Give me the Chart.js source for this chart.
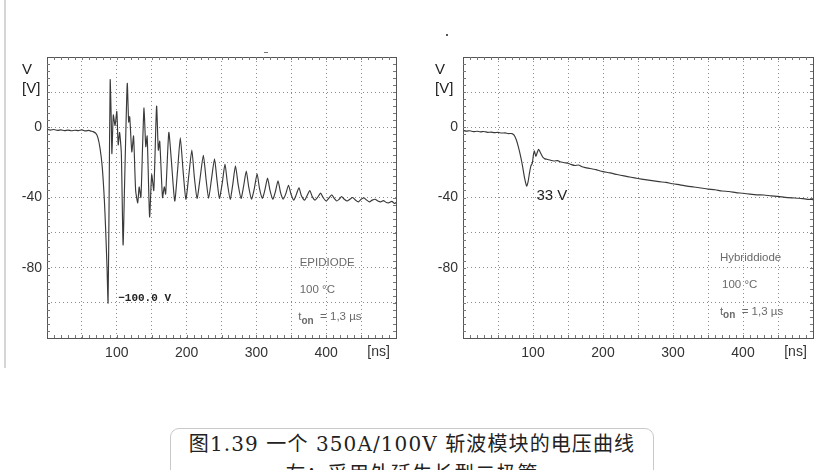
<!DOCTYPE html>
<html>
<head>
<meta charset="utf-8">
<script src="https://cdn.jsdelivr.net/npm/chart.js@4.4.1/dist/chart.umd.min.js"></script>
<style>
    html, body { margin: 0; padding: 0; background: #fff; }
    body { width: 826px; height: 470px; position: relative; overflow: hidden; font-family: "Liberation Sans", Arial, sans-serif; }
    .painel { position: absolute; top: 0; }
    #barra { position: absolute; left: 4px; top: 0; width: 2px; height: 368px; background: #d6d6d6; }
    #ponto { position: absolute; left: 446px; top: 34px; width: 2px; height: 2px; background: #555; }
    #traco { position: absolute; left: 264px; top: 52px; width: 4px; height: 1px; background: #777; }
    #legenda {
        position: absolute; left: 170px; top: 428px; width: 484px; height: 70px;
        box-sizing: border-box; border: 1px solid #c9c9c9; border-radius: 9px;
        text-align: center; color: #222; line-height: 30px; letter-spacing: 1.1px;
        font-family: "DejaVu Serif", "Liberation Serif", "Noto Sans CJK SC", serif; font-size: 20px;
    }
</style>
</head>
<body>
<div id="barra"></div>
<div id="ponto"></div>
<div id="traco"></div>
<canvas id="graficoEsq" class="painel" style="left:0px" width="413" height="380"></canvas>
<canvas id="graficoDir" class="painel" style="left:413px" width="413" height="380"></canvas>
<div id="legenda">图1.39 一个 350A/100V 斩波模块的电压曲线<br>左：采用外延生长型二极管</div>
<script>
// ##########################
// ## DADOS ##
// ##########################

// Tempo [ns] e tensão [V] - EPIDIODE (gráfico da esquerda)
const tempoEpi = [0, 5, 10, 15, 20, 25, 30, 35, 40, 45, 50, 55, 60, 63, 66, 70, 73, 76, 79, 82, 84, 86, 87.5,
    89, 90.5, 92, 93, 95, 97.5, 100, 102, 104, 106.5, 109, 111, 112.5, 115, 117, 118.5, 121.5, 124, 127, 130,
    132, 134.5, 137, 139, 141.5, 143.5, 147, 150, 153, 157, 159.5, 161.5, 165.5, 168, 170, 174.5, 178, 183,
    187, 191, 195, 199, 203, 207.5, 211, 215, 219, 224, 228, 231.5, 235.5, 240, 243.5, 247, 251, 255, 258.5,
    262.5, 266, 270, 274, 278, 281.5, 285.5, 289, 293, 297, 301, 304.5, 308.5, 312, 316, 319.5, 323.5, 327,
    331, 334.5, 338.5, 342, 346, 349.5, 353.5, 357, 361, 364.5, 369, 372.5, 376.5, 380, 384, 387.5, 392,
    395.5, 400, 403.5, 408, 411.5, 415, 418.5, 422, 426, 430, 434, 438, 442, 446, 450, 454, 458, 462, 466,
    470, 474, 478, 482, 486, 490, 494, 498, 500];
const tensaoEpi = [-1.2, -1.6, -1.3, -1.8, -1.5, -1.9, -1.6, -2.0, -1.7, -1.9, -1.5, -2.1, -1.8, -2.2, -2.5,
    -3.5, -6, -12, -22, -40, -58, -80, -100,
    -40, 27, 5, -15, 7, 1, 9, -10, -3, -15, -67, -35, -10, 25, 3, 6, -14, -5, -36, -43,
    -34, -40, -10, 11, -11, -5, -51, -27, -36, 12, -13, -8, -40, -34, -38, -3, -18, -42,
    -25, -6, -25, -41, -28, -13, -28, -40.5, -30, -16, -30, -40.5, -30, -18, -30, -40.5, -32, -21, -32,
    -41, -33, -22, -33, -40.5, -34, -25, -34, -41, -35, -26.5, -35, -40.5, -36, -29, -36, -41, -37,
    -30.5, -37, -41, -38, -33, -38, -41.5, -38.5, -34.5, -39, -41.5, -39, -36, -39.5, -41.5, -40, -37.5,
    -40, -42, -40.5, -38.5, -40.5, -42, -41, -39.5, -41, -42, -41, -40, -41.5, -42.5, -41, -40.2, -41.5, -42.5, -41.5,
    -41, -42, -42.5, -41.8, -42.8, -43, -42.2, -43.4, -42.8];

// Tempo [ns] e tensão [V] - Hybriddiode (gráfico da direita)
const tempoHib = [0, 5, 10, 15, 20, 25, 30, 35, 40, 45, 50, 55, 60, 65, 70, 73, 76, 79, 82, 85, 88, 91, 93,
    95, 97, 99, 100.5, 102, 104, 106, 108, 110, 112, 114, 117, 120, 125, 130, 135, 140, 145, 150, 155, 160,
    165, 170, 175, 180, 185, 190, 195, 200, 210, 220, 230, 240, 250, 260, 270, 280, 290, 300, 310, 320, 330,
    340, 350, 360, 370, 380, 390, 400, 410, 420, 430, 440, 450, 460, 470, 480, 490, 500];
const tensaoHib = [-1.8, -2.2, -2.0, -2.5, -2.3, -2.6, -2.4, -2.9, -2.8, -3.1, -2.9, -3.3, -3.2, -3.6, -3.6,
    -4.5, -7, -11, -16, -22, -29, -33.5, -31,
    -26, -22, -20.5, -16, -13.5, -16.5, -14.5, -12.5, -14, -15.5, -17, -18, -18.2, -18.8, -19.2, -19, -19.8,
    -20.2, -20.5, -21.3, -21.8, -21.5, -22.5, -23, -23.4, -23.8, -24.1, -24.8, -25.3, -26, -26.9, -27.7,
    -28.5, -29.2, -29.8, -30.4, -31, -31.4, -32.2, -32.8, -33.5, -34, -34.6, -35.2, -35.6, -36.3, -36.6,
    -37.2, -37.6, -38.1, -38.5, -38.6, -39.1, -39.4, -39.9, -40.2, -40.4, -40.9, -41.2];

// Marcas dos eixos
const ticksTempo = [100, 200, 300, 400];
const ticksTensao = [0, -40, -80];

// ##########################
// ## ESTILO GERAL          ##
// ##########################

const fonteEixo = '"Liberation Sans Narrow", "Liberation Sans", Arial, sans-serif';
const fonteNota = '"Liberation Sans", Arial, sans-serif';

// Plugin que desenha a moldura, as marcas menores e os textos dentro do gráfico
const pluginMoldura = {
    id: 'moldura',
    afterDraw(chart, args, opts) {
        const ctx = chart.ctx;
        const area = chart.chartArea;
        const sx = chart.scales.x;
        const sy = chart.scales.y;
        ctx.save();
        // moldura
        ctx.strokeStyle = '#555';
        ctx.lineWidth = 1;
        ctx.strokeRect(Math.round(area.left) + 0.5, Math.round(area.top) + 0.5,
            Math.round(area.right - area.left), Math.round(area.bottom - area.top));
        // marcas menores (10 ns e 4 V)
        ctx.strokeStyle = '#777';
        ctx.beginPath();
        for (let t = 10; t < 500; t += 10) {
            const px = Math.round(sx.getPixelForValue(t)) + 0.5;
            ctx.moveTo(px, area.bottom); ctx.lineTo(px, area.bottom - 3);
            ctx.moveTo(px, area.top); ctx.lineTo(px, area.top + 3);
        }
        for (let v = -116; v < 40; v += 4) {
            const py = Math.round(sy.getPixelForValue(v)) + 0.5;
            ctx.moveTo(area.left, py); ctx.lineTo(area.left + 3, py);
            ctx.moveTo(area.right, py); ctx.lineTo(area.right - 3, py);
        }
        ctx.stroke();
        // títulos dos eixos
        ctx.fillStyle = '#222';
        ctx.font = '15px ' + fonteNota;
        ctx.textBaseline = 'middle';
        ctx.textAlign = 'left';
        ctx.fillText('V', area.left - opts.recuoTitulo, 70);
        ctx.fillText('[V]', area.left - opts.recuoTitulo, 89);
        ctx.font = '14px ' + fonteEixo;
        ctx.textAlign = 'center';
        ctx.fillStyle = '#333';
        ctx.fillText('[ns]', sx.getPixelForValue(475), area.bottom + 14);
        // notas
        opts.notas.forEach(n => {
            const px = sx.getPixelForValue(n.t);
            const py = sy.getPixelForValue(n.v);
            ctx.fillStyle = n.cor;
            ctx.font = n.fonte;
            ctx.textAlign = 'left';
            if (n.sub) {
                ctx.fillText('t', px, py);
                let w = ctx.measureText('t').width;
                ctx.font = 'bold 10px ' + fonteNota;
                ctx.fillText('on', px + w, py + 4);
                w += ctx.measureText('on').width;
                ctx.font = n.fonte;
                ctx.fillText('  = 1,3 µs', px + w, py);
            } else {
                ctx.fillText(n.texto, px, py);
            }
        });
        ctx.restore();
    }
};

// ##########################
// ## CONFIGURAÇÃO DOS GRÁFICOS ##
// ##########################

function criarGrafico(idCanvas, tempos, tensoes, larguraEixoY, padDireita, notas) {
    const pontos = tempos.map((t, i) => ({ x: t, y: tensoes[i] }));
    return new Chart(document.getElementById(idCanvas), {
        type: 'line',
        data: {
            datasets: [{
                data: pontos,
                borderColor: '#3a3a3a',
                borderWidth: 1.15,
                pointRadius: 0,
                tension: 0.2,
                fill: false
            }]
        },
        options: {
            responsive: false,
            animation: false,
            events: [],
            layout: { padding: { top: 57, right: padDireita, bottom: 12, left: 0 } },
            plugins: {
                legend: { display: false },
                tooltip: { enabled: false },
                moldura: { notas: notas, recuoTitulo: larguraEixoY - 22 }
            },
            scales: {
                x: {
                    type: 'linear',
                    min: 0,
                    max: 500,
                    afterFit: s => { s.height = 30; },
                    afterBuildTicks: s => {
                        const lista = [];
                        for (let t = 0; t <= 500; t += 50) lista.push({ value: t });
                        s.ticks = lista;
                    },
                    ticks: {
                        autoSkip: false,
                        maxRotation: 0,
                        padding: 7,
                        color: '#333',
                        font: { family: fonteEixo, size: 14 },
                        callback: v => ticksTempo.includes(v) ? String(v) : ''
                    },
                    grid: { color: '#8c8c8c', lineWidth: 1, drawTicks: false },
                    border: { display: false, dash: [1, 3] }
                },
                y: {
                    type: 'linear',
                    min: -120,
                    max: 40,
                    afterFit: s => { s.width = larguraEixoY; },
                    afterBuildTicks: s => {
                        const lista = [];
                        for (let v = -120; v <= 40; v += 20) lista.push({ value: v });
                        s.ticks = lista;
                    },
                    ticks: {
                        autoSkip: false,
                        padding: 5,
                        color: '#333',
                        font: { family: fonteEixo, size: 14 },
                        callback: v => ticksTensao.includes(v) ? String(v) : ''
                    },
                    grid: { color: '#8c8c8c', lineWidth: 1, drawTicks: false },
                    border: { display: false, dash: [1, 3] }
                }
            }
        },
        plugins: [pluginMoldura]
    });
}

// Notas do gráfico da esquerda
const notasEpi = [
    { t: 102, v: -97.2, texto: '\u2212100.0 V', fonte: 'bold 11px "Liberation Mono", monospace', cor: '#222' },
    { t: 362, v: -77.2, texto: 'EPIDIODE', fonte: '11.5px ' + fonteNota, cor: '#6a6a6a' },
    { t: 362, v: -92.6, texto: '100 °C', fonte: '11.5px ' + fonteNota, cor: '#6a6a6a' },
    { t: 360, v: -108, sub: true, fonte: '11.5px ' + fonteNota, cor: '#6a6a6a' }
];

// Notas do gráfico da direita
const notasHib = [
    { t: 105, v: -39, texto: '33 V', fonte: '15px ' + fonteNota, cor: '#222' },
    { t: 367, v: -74.4, texto: 'Hybriddiode', fonte: '11.5px ' + fonteNota, cor: '#6a6a6a' },
    { t: 370, v: -89.7, texto: '100 °C', fonte: '11.5px ' + fonteNota, cor: '#6a6a6a' },
    { t: 367, v: -105, sub: true, fonte: '11.5px ' + fonteNota, cor: '#6a6a6a' }
];

const graficoEsq = criarGrafico('graficoEsq', tempoEpi, tensaoEpi, 47, 17, notasEpi);
const graficoDir = criarGrafico('graficoDir', tempoHib, tensaoHib, 50, 13, notasHib);
</script>
</body>
</html>
